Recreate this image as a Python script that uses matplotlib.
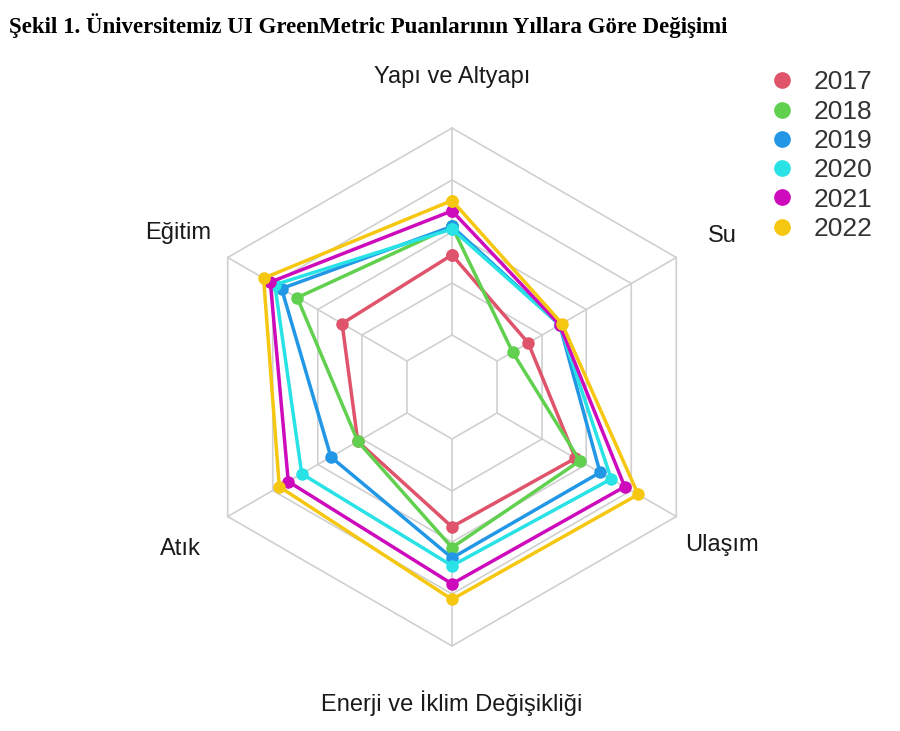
import numpy as np
import matplotlib.pyplot as plt

categories = ["Yapı ve Altyapı", "Su", "Ulaşım", "Enerji ve İklim Değişikliği", "Atık", "Eğitim"]
years = ["2017", "2018", "2019", "2020", "2021", "2022"]
colors = ["#DF536B", "#61D04F", "#2297E6", "#28E2E5", "#CD0BBC", "#F5C710"]
# scores as share of the outer ring (0-100)
scores = {
    "2017": [51, 34, 55, 54, 42, 49],
    "2018": [62, 27, 57, 62, 42, 69],
    "2019": [62, 48, 66, 66, 54, 76],
    "2020": [61, 48, 71, 69, 67, 79],
    "2021": [68, 48, 77, 76, 73, 81],
    "2022": [72, 49, 83, 82, 77, 84],
}

R = 259  # outer ring radius in pixels
ang = np.deg2rad([90, 30, -30, -90, -150, 150])

fig = plt.figure(figsize=(9, 7.31), dpi=100)
ax = fig.add_axes([0, 0, 1, 1])
ax.set_xlim(-452, 448)
ax.set_ylim(-344, 387)
ax.set_aspect("equal")
ax.axis("off")

# hexagon grid and spokes
for lev in [52, 104, 155, 207, 259]:
    a = np.append(ang, ang[0])
    ax.plot(lev * np.cos(a), lev * np.sin(a), color="#D0D0D0", lw=1.2, zorder=1)
for t in ang:
    ax.plot([52 * np.cos(t), R * np.cos(t)], [52 * np.sin(t), R * np.sin(t)], color="#D0D0D0", lw=1.2, zorder=1)

for yr, c in zip(years, colors):
    r = np.array(scores[yr]) / 100 * R
    x = np.append(r * np.cos(ang), r[0] * np.cos(ang[0]))
    y = np.append(r * np.sin(ang), r[0] * np.sin(ang[0]))
    ax.plot(x, y, color=c, lw=2.5, marker="o", ms=8, label=yr, zorder=3)

lab_pos = [(0, 310), (270, 151), (270, -158), (0, -316), (-272, -162), (-274, 154)]
for (lx, ly), name in zip(lab_pos, categories):
    ax.text(lx, ly, name, fontsize=17, color="#1a1a1a", ha="center", va="center", family="Liberation Sans")

fig.text(0.01, 0.965, "Şekil 1. Üniversitemiz UI GreenMetric Puanlarının Yıllara Göre Değişimi",
         fontsize=16.5, fontweight="bold", family="Liberation Serif", ha="left", va="center")

leg = ax.legend(loc="upper left", bbox_to_anchor=(0.845, 0.918), frameon=False,
                prop={"family": "Liberation Sans", "size": 19},
                handlelength=0.8, handletextpad=0.8, labelspacing=0.2, borderaxespad=0)
for h in leg.legend_handles:
    h.set_linestyle("none")
    h.set_markersize(11)
for t in leg.get_texts():
    t.set_color("#333333")

fig.savefig("out.png", dpi=100)
